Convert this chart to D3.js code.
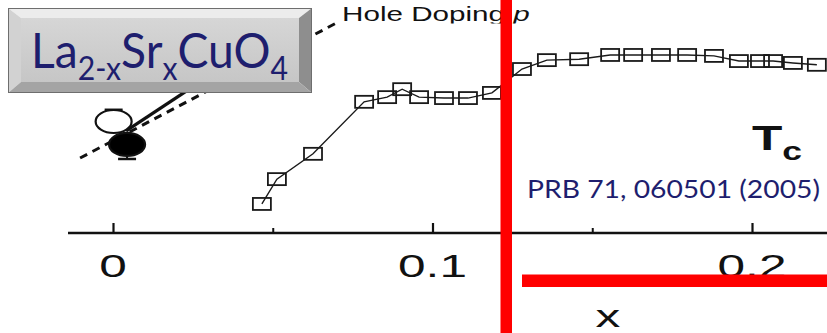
<!DOCTYPE html>
<html>
<head>
<meta charset="utf-8">
<script src="https://cdn.jsdelivr.net/npm/d3@7/dist/d3.min.js"></script>
<style>
  html, body { margin: 0; padding: 0; background: #ffffff; }
  svg { display: block; }
</style>
</head>
<body>
<div id="chart"></div>
<script>
// Sr content x of La2-xSrxCuO4 and superconducting Tc (K) of each sample
const dopingX = [0.0466, 0.0513, 0.0626, 0.0786, 0.0858, 0.0905, 0.0958, 0.1036, 0.1111, 0.1186,
                 0.1280, 0.1358, 0.1459, 0.1556, 0.1628, 0.1715, 0.1797, 0.1881, 0.1959, 0.2025,
                 0.2066, 0.2128, 0.2203];
const tcValues = [6.2, 11.5, 16.9, 28.0, 29.0, 30.7, 29.0, 28.8, 28.8, 29.9,
                  35.0, 36.9, 37.1, 38.0, 38.0, 38.0, 38.0, 37.8, 36.7, 36.7,
                  36.7, 36.3, 35.9];

// undoped reference points (open and filled circles) with error-bar ends
const circleX = [0.0002, 0.0044];
const circleTc = [23.8, 18.9];
const circleErr = [26.3, 15.8];
const circleFilled = [false, true];

// hole-doping guide (dashed) and low-doping trend (solid)
const holeLineX = [-0.0103, 0.0704];
const holeLineTc = [16.0, 45.0];
const trendLineX = [0.0041, 0.0272];
const trendLineTc = [21.8, 32.2];

const majorTicks = [0, 0.1, 0.2];
const majorLabels = ["0", "0.1", "0.2"];
const minorTicks = [0.05, 0.15];

const W = 827, H = 333;
const svg = d3.select("#chart").append("svg").attr("width", W).attr("height", H);
const defs = svg.append("defs");

const x = d3.scaleLinear().domain([0, 0.2]).range([113, 752]);
const y = d3.scaleLinear().domain([0, 40]).range([233, 45.6]);

// the plotted figure is horizontally stretched
const SX = 1.55;
const fig = svg.append("g");

// x axis: baseline with inward ticks
const axisY = y(0);
fig.append("line").attr("x1", 68).attr("x2", W).attr("y1", axisY).attr("y2", axisY)
  .attr("stroke", "#111").attr("stroke-width", 2.4);
const axis = d3.axisTop(x).tickValues(majorTicks).tickSize(10).tickFormat("");
const ag = fig.append("g").attr("transform", `translate(0,${axisY})`).call(axis);
ag.select(".domain").remove();
ag.selectAll(".tick line").attr("stroke", "#111").attr("stroke-width", 2.2);
const axisMinor = d3.axisTop(x).tickValues(minorTicks).tickSize(5).tickFormat("");
const amg = fig.append("g").attr("transform", `translate(0,${axisY})`).call(axisMinor);
amg.select(".domain").remove();
amg.selectAll(".tick line").attr("stroke", "#111").attr("stroke-width", 2);

// tick labels
majorTicks.forEach((t, i) => {
  fig.append("text")
    .attr("transform", `translate(${x(t)},277) scale(${SX},1)`)
    .attr("text-anchor", "middle")
    .attr("font-family", "Liberation Sans, Arial, sans-serif")
    .attr("font-size", 32).attr("fill", "#111")
    .text(majorLabels[i]);
});
fig.append("text")
  .attr("transform", `translate(608,327) scale(${SX},1)`)
  .attr("text-anchor", "middle")
  .attr("font-family", "Liberation Sans, Arial, sans-serif")
  .attr("font-size", 32).attr("fill", "#111")
  .text("x");

// guide lines
const lineGen = d3.line().x(d => x(d[0])).y(d => y(d[1]));
fig.append("path").datum(d3.zip(holeLineX, holeLineTc)).attr("d", lineGen)
  .attr("fill", "none").attr("stroke", "#111").attr("stroke-width", 3)
  .attr("stroke-dasharray", "8,6");
fig.append("path").datum(d3.zip(trendLineX, trendLineTc)).attr("d", lineGen)
  .attr("fill", "none").attr("stroke", "#111").attr("stroke-width", 3.2);

// circles with error bars
circleX.forEach((cx, i) => {
  const px = x(cx);
  fig.append("line").attr("x1", px).attr("x2", px)
    .attr("y1", y(circleTc[i])).attr("y2", y(circleErr[i]))
    .attr("stroke", "#111").attr("stroke-width", 2);
  fig.append("line").attr("x1", px - 9).attr("x2", px + 9)
    .attr("y1", y(circleErr[i])).attr("y2", y(circleErr[i]))
    .attr("stroke", "#111").attr("stroke-width", 2.5);
  fig.append("ellipse").attr("cx", px).attr("cy", y(circleTc[i]))
    .attr("rx", 18).attr("ry", 11.5)
    .attr("fill", circleFilled[i] ? "#000" : "#fff")
    .attr("stroke", "#111").attr("stroke-width", 2.2);
});

// Tc series: line and open squares
const tcPts = d3.zip(dopingX, tcValues);
fig.append("path").datum(tcPts).attr("d", lineGen)
  .attr("fill", "none").attr("stroke", "#1a1a1a").attr("stroke-width", 1.4);
fig.selectAll("rect.sq").data(tcPts).join("rect").attr("class", "sq")
  .attr("x", d => x(d[0]) - 9).attr("y", d => y(d[1]) - 6)
  .attr("width", 18).attr("height", 12)
  .attr("fill", "none").attr("stroke", "#1a1a1a").attr("stroke-width", 1.8);

// "Hole Doping p" caption, cut at the figure's top edge
defs.append("clipPath").attr("id", "topclip")
  .append("rect").attr("x", 0).attr("y", 0).attr("width", W).attr("height", 23.5);
const hd = fig.append("g").attr("clip-path", "url(#topclip)");
const hdText = hd.append("text")
  .attr("transform", `translate(342,21) scale(1.52,1)`)
  .attr("font-family", "Liberation Sans, Arial, sans-serif")
  .attr("font-size", 19.5).attr("fill", "#111");
hdText.append("tspan").text("Hole Doping ");
hdText.append("tspan").attr("font-style", "italic").text("p");

// Tc label
const tcText = fig.append("text")
  .attr("transform", `translate(752,150) scale(1.42,1)`)
  .attr("font-family", "Liberation Sans, Arial, sans-serif")
  .attr("font-weight", "bold").attr("font-size", 35).attr("fill", "#111");
tcText.append("tspan").text("T");
tcText.append("tspan").attr("dy", 10).attr("font-size", 25).text("c");

// reference citation
const navy = "#1e1e6e";
svg.append("text")
  .attr("x", 527).attr("y", 198)
  .attr("font-family", "Lato, 'Open Sans', sans-serif")
  .attr("font-size", 25).attr("fill", navy)
  .attr("textLength", 293).attr("lengthAdjust", "spacingAndGlyphs")
  .text("PRB 71, 060501 (2005)");

// bevelled title box
const bx0 = 8, by0 = 8, bx1 = 312, by1 = 93;
const bl = 13, bt = 10, br = 13, bb = 11;
const box = svg.append("g");
const grad = defs.append("linearGradient").attr("id", "face").attr("x1", 0).attr("y1", 0).attr("x2", 0).attr("y2", 1);
grad.append("stop").attr("offset", "0%").attr("stop-color", "#d6d6d6");
grad.append("stop").attr("offset", "100%").attr("stop-color", "#c6c6c6");
const poly = (pts, fill) => box.append("polygon").attr("points", pts.map(p => p.join(",")).join(" ")).attr("fill", fill);
poly([[bx0, by0], [bx1, by0], [bx1 - br, by0 + bt], [bx0 + bl, by0 + bt]], "#ececec");
poly([[bx0, by0], [bx0 + bl, by0 + bt], [bx0 + bl, by1 - bb], [bx0, by1]], "#d2d2d2");
poly([[bx1, by0], [bx1, by1], [bx1 - br, by1 - bb], [bx1 - br, by0 + bt]], "#8e8e8e");
poly([[bx0, by1], [bx0 + bl, by1 - bb], [bx1 - br, by1 - bb], [bx1, by1]], "#a4a4a4");
box.append("rect").attr("x", bx0 + bl).attr("y", by0 + bt)
  .attr("width", bx1 - bx0 - bl - br).attr("height", by1 - by0 - bt - bb)
  .attr("fill", "url(#face)");
box.append("rect").attr("x", bx0 + 0.5).attr("y", by0 + 0.5)
  .attr("width", bx1 - bx0 - 1).attr("height", by1 - by0 - 1)
  .attr("fill", "none").attr("stroke", "#6e6e6e").attr("stroke-width", 1);

// chemical formula: one run of text, subscripts shifted down, then
// narrowed horizontally to fit between the bevels
const titleParts = [
  { t: "La", sub: false },
  { t: "2-x", sub: true },
  { t: "Sr", sub: false },
  { t: "x", sub: true },
  { t: "CuO", sub: false },
  { t: "4", sub: true }
];
const titleLeft = 31, titleRight = 288, titleBase = 68;
const title = box.append("text")
  .attr("font-family", "Lato, 'Open Sans', sans-serif")
  .attr("font-size", 49)
  .attr("fill", navy);
let wasSub = false;
titleParts.forEach(p => {
  const shift = p.sub === wasSub ? 0 : (p.sub ? 12 : -12);
  title.append("tspan")
    .attr("dy", shift)
    .attr("font-size", p.sub ? 32 : 49)
    .text(p.t);
  wasSub = p.sub;
});
const natural = title.node().getComputedTextLength();
const squeeze = (titleRight - titleLeft) / natural;
title.attr("transform", `translate(${titleLeft},${titleBase}) scale(${squeeze},1)`);

// red marker lines
svg.append("rect").attr("x", 500.5).attr("y", 0).attr("width", 11.5).attr("height", H).attr("fill", "#ff0000");
svg.append("rect").attr("x", 522).attr("y", 274.5).attr("width", W - 522).attr("height", 12.5).attr("fill", "#ff0000");
</script>
</body>
</html>
